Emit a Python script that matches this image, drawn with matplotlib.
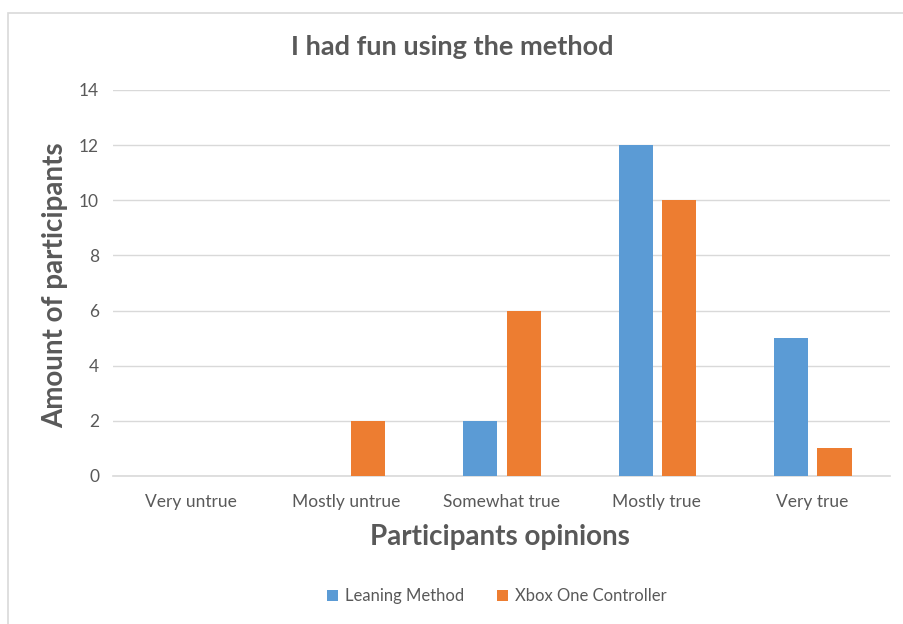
import numpy as np
import matplotlib.pyplot as plt
from matplotlib.patches import Rectangle

plt.rcParams['font.family'] = ['Lato', 'DejaVu Sans']

categories = ["Very untrue", "Mostly untrue", "Somewhat true", "Mostly true", "Very true"]
leaning = [0, 0, 2, 12, 5]
xbox = [0, 2, 6, 10, 1]
series_names = ["Leaning Method", "Xbox One Controller"]

blue = "#5B9BD5"
orange = "#ED7D31"
text_gray = "#595959"
grid_gray = "#D9D9D9"

fig = plt.figure(figsize=(9.04, 6.24), dpi=100)
ax = fig.add_axes([113 / 904, 1 - 476 / 624, 777 / 904, 386 / 624])

# chart border (only left/top visible in the crop)
fig.patches.append(Rectangle((8 / 904, -0.1), 1.2, 1 - 13 / 624 + 0.1,
                             transform=fig.transFigure, fill=False,
                             edgecolor=grid_gray, linewidth=1.2))

x = np.arange(len(categories))
w = 0.22
ax.bar(x - 0.137, leaning, width=w, color=blue, label=series_names[0], zorder=3)
ax.bar(x + 0.143, xbox, width=w, color=orange, label=series_names[1], zorder=3)

ax.set_xlim(-0.5, 4.5)
ax.set_ylim(0, 14)
ax.set_yticks(range(0, 15, 2))
ax.set_xticks(x)
ax.set_xticklabels(categories)

ax.grid(axis='y', color=grid_gray, linewidth=1, zorder=0)
for s in ['top', 'right', 'left']:
    ax.spines[s].set_visible(False)
ax.spines['bottom'].set_color(grid_gray)
ax.spines['bottom'].set_linewidth(1.2)
ax.tick_params(length=0, colors=text_gray, labelsize=12.5)
ax.tick_params(axis='y', pad=10)
ax.tick_params(axis='x', pad=13)

fig.text(452 / 904, 1 - 47 / 624, "I had fun using the method", ha='center', va='center',
         fontsize=19.5, fontweight='bold', color=text_gray)
fig.text(55 / 904, 1 - 285 / 624, "Amount of participants", ha='center', va='center',
         rotation=90, fontsize=20, fontweight='bold', color=text_gray)
fig.text(500 / 904, 1 - 537 / 624, "Participants opinions", ha='center', va='center',
         fontsize=20, fontweight='bold', color=text_gray)

fig.legend(loc='center', bbox_to_anchor=(497 / 904, 1 - 596 / 624), ncol=2,
           frameon=False, fontsize=12, labelcolor=text_gray,
           handlelength=0.65, handleheight=0.65, handletextpad=0.4, columnspacing=2.0)

fig.savefig("out.png", dpi=100)
